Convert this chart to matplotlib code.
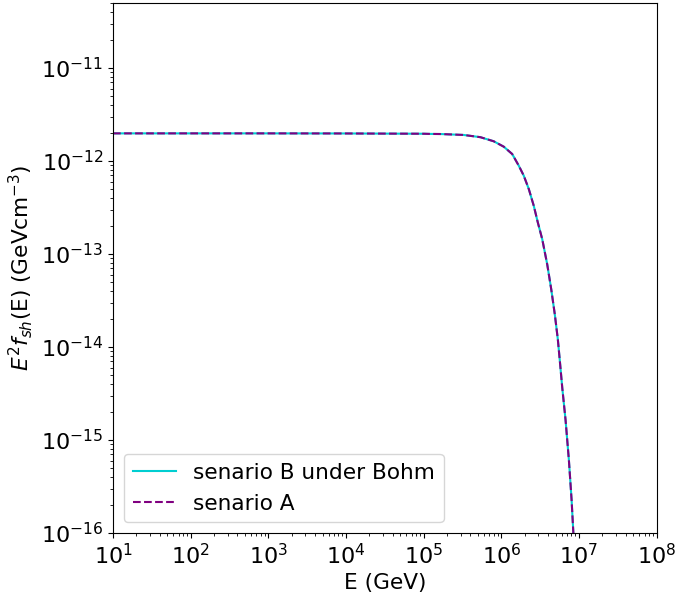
import numpy as np
import matplotlib
matplotlib.use('Agg')
from matplotlib import pyplot as plt

# log10 of energy (GeV) and log10 of E^2 f_sh(E) along the spectrum
log_E = [1.0, 2.0, 3.0, 4.0, 5.0, 5.086, 5.215, 5.516, 5.731, 5.903, 6.032,
         6.141, 6.226, 6.290, 6.355, 6.419, 6.471, 6.528, 6.592, 6.644,
         6.690, 6.729, 6.759, 6.786, 6.828, 6.871, 6.906, 6.929, 6.95]
log_f_B = [-11.703, -11.703, -11.703, -11.704, -11.707, -11.709, -11.710,
           -11.720, -11.744, -11.788, -11.846, -11.925, -12.051, -12.158,
           -12.302, -12.482, -12.661, -12.841, -13.111, -13.380, -13.650,
           -13.919, -14.189, -14.440, -14.782, -15.213, -15.644, -16.003,
           -16.35]
# scenario A lies on top of scenario B
log_f_A = list(log_f_B)

E = 10.0 ** np.array(log_E)
f_B = 10.0 ** np.array(log_f_B)
f_A = 10.0 ** np.array(log_f_A)

fig = plt.figure(figsize=(6.76, 5.97), dpi=100)
ax = fig.add_axes([0.1672, 0.1072, 0.8040, 0.8878])

ax.plot(E, f_B, color='darkturquoise', linewidth=1.5,
        label='senario B under Bohm')
ax.plot(E, f_A, color='purple', linewidth=1.5, linestyle='--',
        label='senario A')

ax.set_xscale('log')
ax.set_yscale('log')
ax.set_xlim(1e1, 1e8)
ax.set_ylim(1e-16, 5e-11)

ax.tick_params(axis='both', which='major', labelsize=16)
ax.set_xlabel('E (GeV)', fontsize=15.6)
ax.set_ylabel(r'$E^2f_{sh}$(E) (GeVcm$^{-3}$)', fontsize=15.6)

ax.legend(loc='lower left', fontsize=15.6)

fig.savefig('out.png', dpi=100)
